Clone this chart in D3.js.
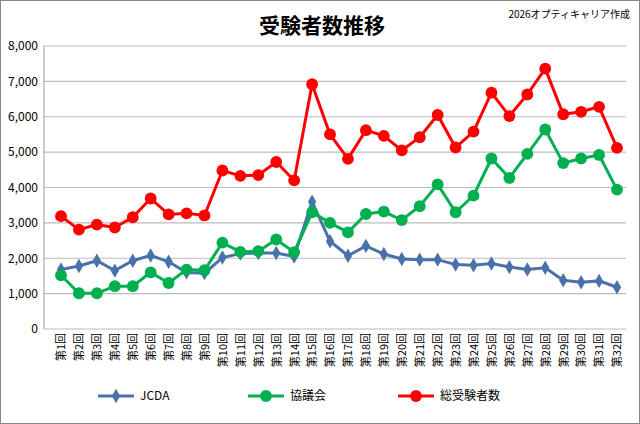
<!DOCTYPE html>
<html>
<head>
<meta charset="utf-8">
<script src="https://d3js.org/d3.v7.min.js"></script>
<style>
  body { margin: 0; }
  text { font-family: "Noto Sans CJK JP", "Liberation Sans", sans-serif; }
</style>
</head>
<body>
<svg id="main" width="640" height="424"></svg>
<script>
var rounds = d3.range(1, 33).map(function(i) { return '第' + i + '回'; });
var jcda = [1680,1780,1930,1650,1930,2080,1900,1600,1580,2020,2130,2150,2150,2050,3600,2480,2070,2350,2120,1980,1960,1960,1820,1800,1850,1750,1680,1730,1380,1320,1360,1180];
var kyogikai = [1520,1010,1010,1210,1210,1600,1300,1680,1660,2440,2180,2200,2530,2170,3300,3000,2730,3250,3320,3080,3470,4090,3300,3770,4820,4270,4950,5640,4690,4820,4920,3940];
var total = [3190,2810,2950,2870,3160,3690,3240,3270,3210,4480,4330,4350,4720,4200,6920,5500,4810,5620,5460,5050,5420,6050,5130,5580,6680,6020,6630,7360,6070,6140,6280,5120];
var yTicks = [0,1000,2000,3000,4000,5000,6000,7000,8000];

var svg = d3.select('#main');
svg.append('rect').attr('x', 0.5).attr('y', 0.5).attr('width', 639).attr('height', 423)
  .attr('fill', 'white').attr('stroke', '#888');

var plotLeft = 44, plotRight = 626, plotTop = 46, plotBottom = 329;
var x = d3.scalePoint().domain(rounds).range([plotLeft + 17, plotRight - 9]);
var y = d3.scaleLinear().domain([0, 8000]).range([plotBottom, plotTop]);

var g = svg.append('g');
g.selectAll('line.grid').data(yTicks).enter().append('line')
  .attr('x1', plotLeft).attr('x2', plotRight)
  .attr('y1', function(d) { return y(d); }).attr('y2', function(d) { return y(d); })
  .attr('stroke', '#bbb').attr('stroke-width', 1.2);
g.append('line').attr('x1', plotLeft).attr('x2', plotLeft).attr('y1', plotTop).attr('y2', plotBottom)
  .attr('stroke', '#999');

var yAxis = svg.append('g').attr('transform', 'translate(' + plotLeft + ',0)')
  .call(d3.axisLeft(y).tickValues(yTicks).tickSize(0).tickPadding(6));
yAxis.select('.domain').remove();
yAxis.selectAll('text').attr('font-size', 12).attr('font-family', 'Liberation Sans, sans-serif').attr('fill', '#000');

var xAxis = svg.append('g').attr('transform', 'translate(0,' + plotBottom + ')')
  .call(d3.axisBottom(x).tickSize(0));
xAxis.select('.domain').remove();
xAxis.selectAll('text').attr('font-size', 11).attr('fill', '#000')
  .attr('transform', 'rotate(-90)').attr('text-anchor', 'end')
  .attr('dx', '-4').attr('dy', '0.35em').attr('y', 0).attr('x', 0);

var series = [
  { name: 'JCDA', data: jcda, color: '#4a72aa', shape: 'diamond' },
  { name: '協議会', data: kyogikai, color: '#00b050', shape: 'circle' },
  { name: '総受験者数', data: total, color: '#ff0000', shape: 'circle' }
];
var line = d3.line().x(function(d, i) { return x(rounds[i]); }).y(function(d) { return y(d); });

series.forEach(function(s) {
  svg.append('path').datum(s.data).attr('d', line)
    .attr('fill', 'none').attr('stroke', s.color).attr('stroke-width', 3);
  var sym = d3.symbol().type(s.shape === 'diamond' ? d3.symbolDiamond : d3.symbolCircle)
    .size(s.shape === 'diamond' ? 60 : 110);
  svg.selectAll(null).data(s.data).enter().append('path')
    .attr('d', sym)
    .attr('transform', function(d, i) { return 'translate(' + x(rounds[i]) + ',' + y(d) + ')'; })
    .attr('fill', s.color);
});

var legendX = [98, 248, 398];
series.forEach(function(s, i) {
  var lg = svg.append('g').attr('transform', 'translate(' + legendX[i] + ',396)');
  lg.append('line').attr('x1', 0).attr('x2', 36).attr('stroke', s.color).attr('stroke-width', 3);
  lg.append('path').attr('transform', 'translate(18,0)')
    .attr('d', d3.symbol().type(s.shape === 'diamond' ? d3.symbolDiamond : d3.symbolCircle)
      .size(s.shape === 'diamond' ? 60 : 110)())
    .attr('fill', s.color);
  lg.append('text').attr('x', 42).attr('y', 4).attr('font-size', 12).text(s.name);
});

svg.append('text').attr('x', 322).attr('y', 33).attr('text-anchor', 'middle')
  .attr('font-size', 21).attr('font-weight', 'bold').text('受験者数推移');
svg.append('text').attr('x', 630).attr('y', 18).attr('text-anchor', 'end')
  .attr('font-size', 10).text('2026オプティキャリア作成');
</script>
</body>
</html>
